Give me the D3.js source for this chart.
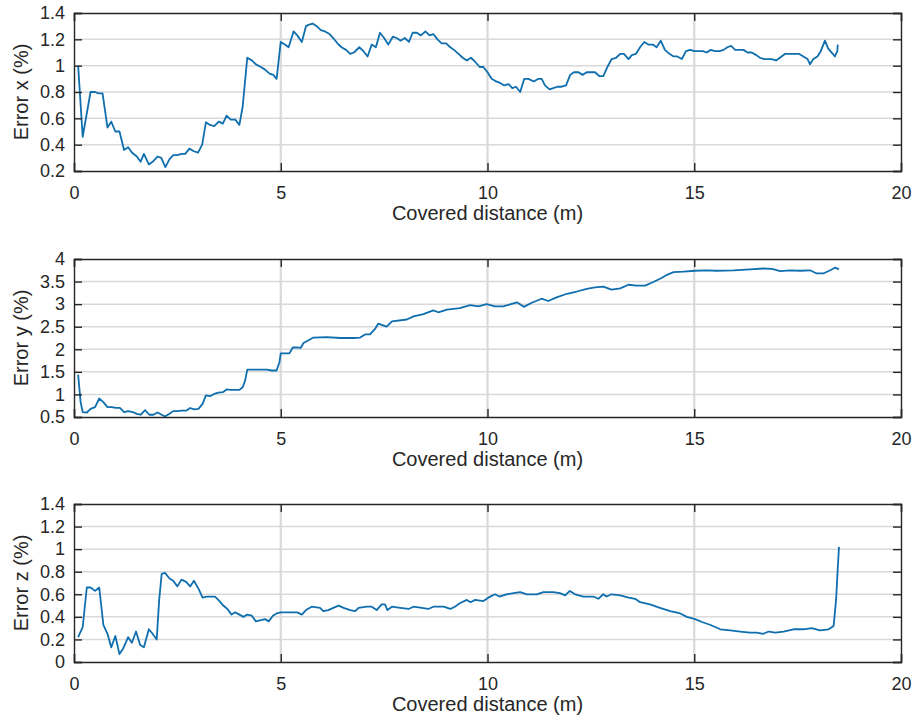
<!DOCTYPE html>
<html><head><meta charset="utf-8">
<script src="https://cdn.jsdelivr.net/npm/d3@7"></script>
<style>
body{margin:0;background:#fff;}
svg text{font-family:"Liberation Sans",Arial,Helvetica,sans-serif;fill:#262626;}
</style></head>
<body><svg id="chart" width="912" height="719"></svg>
<script>
// ---- data ----
const xTicks = [0, 5, 10, 15, 20];
const xLabel = "Covered distance (m)";

const distX = [0.10,0.21,0.40,0.51,0.59,0.69,0.81,0.90,1.00,1.10,1.21,1.31,1.40,1.52,1.61,1.69,1.81,1.90,2.02,2.11,2.21,2.31,2.40,2.50,2.60,2.69,2.79,2.90,3.00,3.10,3.19,3.29,3.39,3.50,3.60,3.69,3.79,3.90,4.00,4.08,4.19,4.30,4.40,4.52,4.62,4.73,4.82,4.90,5.00,5.10,5.19,5.31,5.40,5.51,5.61,5.67,5.77,5.87,5.97,6.07,6.18,6.27,6.37,6.47,6.58,6.68,6.77,6.90,7.00,7.10,7.20,7.30,7.40,7.50,7.60,7.71,7.80,7.90,8.00,8.10,8.19,8.29,8.39,8.50,8.60,8.69,8.79,8.89,9.00,9.10,9.19,9.30,9.40,9.50,9.60,9.70,9.81,9.90,10.00,10.10,10.21,10.30,10.40,10.51,10.60,10.69,10.79,10.89,10.99,11.12,11.23,11.31,11.39,11.50,11.59,11.69,11.79,11.90,12.00,12.09,12.20,12.30,12.40,12.50,12.60,12.71,12.80,12.90,13.00,13.11,13.21,13.30,13.41,13.49,13.59,13.69,13.79,13.89,14.00,14.09,14.19,14.29,14.40,14.50,14.59,14.70,14.80,14.90,15.00,15.10,15.21,15.30,15.40,15.50,15.61,15.71,15.80,15.89,15.99,16.09,16.19,16.29,16.39,16.50,16.59,16.69,16.79,16.87,16.98,17.07,17.20,17.30,17.41,17.53,17.64,17.74,17.80,17.88,17.98,18.06,18.16,18.24,18.35,18.40,18.46,18.47];
const errorX = [1.00,0.46,0.80,0.80,0.79,0.79,0.53,0.575,0.50,0.50,0.36,0.38,0.34,0.31,0.27,0.33,0.25,0.27,0.31,0.30,0.23,0.29,0.32,0.32,0.33,0.33,0.37,0.35,0.34,0.40,0.57,0.55,0.54,0.575,0.56,0.62,0.59,0.59,0.55,0.69,1.06,1.04,1.01,0.99,0.97,0.94,0.93,0.90,1.18,1.16,1.14,1.26,1.23,1.18,1.30,1.31,1.32,1.30,1.27,1.26,1.24,1.21,1.17,1.14,1.12,1.09,1.10,1.14,1.11,1.07,1.16,1.14,1.25,1.21,1.16,1.22,1.21,1.19,1.21,1.18,1.25,1.25,1.23,1.26,1.23,1.24,1.20,1.17,1.17,1.14,1.12,1.09,1.06,1.04,1.06,1.03,0.99,0.99,0.95,0.90,0.88,0.87,0.85,0.86,0.83,0.84,0.80,0.90,0.90,0.88,0.90,0.90,0.85,0.82,0.83,0.84,0.84,0.85,0.93,0.95,0.95,0.93,0.95,0.95,0.95,0.92,0.92,0.99,1.05,1.06,1.09,1.09,1.05,1.08,1.09,1.14,1.18,1.16,1.16,1.14,1.19,1.12,1.09,1.07,1.07,1.05,1.11,1.12,1.11,1.11,1.11,1.10,1.12,1.11,1.11,1.12,1.14,1.15,1.12,1.12,1.12,1.10,1.10,1.08,1.06,1.05,1.05,1.05,1.04,1.06,1.09,1.09,1.09,1.09,1.07,1.05,1.01,1.05,1.07,1.11,1.19,1.13,1.09,1.07,1.11,1.16];
const yTicksX = [0.2, 0.4, 0.6, 0.8, 1, 1.2, 1.4];

const distY = [0.10,0.16,0.21,0.31,0.40,0.51,0.61,0.71,0.81,0.91,1.02,1.11,1.21,1.31,1.42,1.52,1.61,1.72,1.82,1.92,2.02,2.12,2.20,2.31,2.40,2.50,2.60,2.71,2.81,2.90,3.01,3.11,3.19,3.29,3.39,3.49,3.60,3.69,3.79,3.90,4.00,4.08,4.14,4.19,4.30,4.42,4.54,4.66,4.78,4.90,4.97,5.00,5.10,5.21,5.29,5.39,5.48,5.55,5.65,5.79,6.11,6.44,6.76,6.92,7.04,7.16,7.28,7.36,7.56,7.69,8.05,8.21,8.45,8.69,8.81,9.02,9.33,9.58,9.78,9.98,10.18,10.38,10.71,10.88,11.07,11.31,11.47,11.67,11.92,12.16,12.40,12.60,12.80,13.00,13.21,13.41,13.61,13.81,14.01,14.21,14.34,14.50,14.74,15.02,15.30,15.54,15.95,16.35,16.67,16.88,17.08,17.32,17.56,17.80,17.96,18.12,18.29,18.41,18.50];
const errorY = [1.44,0.83,0.61,0.60,0.68,0.72,0.91,0.83,0.72,0.72,0.70,0.70,0.61,0.63,0.61,0.57,0.55,0.65,0.55,0.55,0.60,0.55,0.51,0.57,0.63,0.63,0.64,0.64,0.70,0.67,0.68,0.79,0.98,0.96,1.01,1.04,1.05,1.11,1.10,1.10,1.10,1.16,1.31,1.55,1.55,1.55,1.55,1.55,1.53,1.53,1.72,1.91,1.91,1.91,2.04,2.04,2.03,2.14,2.19,2.26,2.27,2.25,2.25,2.26,2.33,2.33,2.45,2.57,2.50,2.62,2.66,2.73,2.78,2.86,2.82,2.88,2.91,2.98,2.95,3.00,2.95,2.95,3.04,2.94,3.03,3.12,3.07,3.15,3.23,3.28,3.34,3.37,3.39,3.32,3.35,3.43,3.41,3.41,3.49,3.58,3.65,3.71,3.72,3.74,3.75,3.74,3.75,3.77,3.79,3.78,3.73,3.75,3.74,3.75,3.68,3.68,3.75,3.81,3.77];
const yTicksY = [0.5, 1, 1.5, 2, 2.5, 3, 3.5, 4];

const distZ = [0.10,0.21,0.31,0.40,0.51,0.61,0.71,0.81,0.90,1.00,1.10,1.19,1.31,1.40,1.50,1.60,1.69,1.81,1.90,2.00,2.06,2.12,2.20,2.31,2.40,2.50,2.60,2.71,2.81,2.90,3.01,3.11,3.21,3.31,3.41,3.52,3.61,3.71,3.81,3.90,4.00,4.10,4.19,4.30,4.40,4.52,4.62,4.71,4.81,4.90,5.00,5.10,5.21,5.31,5.40,5.51,5.61,5.75,5.95,6.03,6.15,6.27,6.40,6.52,6.68,6.80,6.88,7.08,7.20,7.32,7.44,7.52,7.58,7.69,7.89,8.09,8.21,8.41,8.57,8.69,8.94,9.10,9.21,9.33,9.50,9.59,9.70,9.90,10.02,10.18,10.29,10.46,10.63,10.79,10.95,11.19,11.35,11.59,11.75,11.88,11.99,12.12,12.32,12.56,12.68,12.80,12.88,13.00,13.21,13.41,13.57,13.69,13.93,14.17,14.42,14.66,14.82,15.02,15.22,15.38,15.63,15.87,16.11,16.35,16.51,16.67,16.80,16.96,17.16,17.40,17.64,17.84,18.04,18.25,18.37,18.43,18.46,18.50];
const errorZ = [0.22,0.31,0.66,0.66,0.63,0.66,0.33,0.25,0.13,0.23,0.07,0.12,0.22,0.17,0.27,0.15,0.13,0.29,0.25,0.20,0.55,0.78,0.79,0.74,0.72,0.67,0.73,0.71,0.67,0.72,0.65,0.57,0.58,0.58,0.58,0.54,0.50,0.47,0.42,0.44,0.42,0.40,0.42,0.41,0.36,0.37,0.38,0.36,0.41,0.43,0.44,0.44,0.44,0.44,0.44,0.42,0.46,0.49,0.48,0.45,0.46,0.48,0.50,0.48,0.46,0.45,0.48,0.49,0.49,0.46,0.51,0.51,0.46,0.49,0.48,0.47,0.49,0.48,0.47,0.49,0.49,0.47,0.49,0.52,0.55,0.53,0.55,0.54,0.57,0.60,0.58,0.60,0.61,0.62,0.60,0.60,0.62,0.62,0.61,0.59,0.63,0.60,0.58,0.58,0.56,0.60,0.58,0.60,0.59,0.57,0.56,0.53,0.51,0.48,0.45,0.43,0.40,0.38,0.35,0.33,0.29,0.28,0.27,0.26,0.26,0.25,0.27,0.26,0.27,0.29,0.29,0.30,0.28,0.29,0.32,0.55,0.76,1.02];
const yTicksZ = [0, 0.2, 0.4, 0.6, 0.8, 1, 1.2, 1.4];

// ---- layout ----
const svg = d3.select("#chart");
const left = 74, right = 901;
const panels = [
  {top: 13, bottom: 171, xs: distX, ys: errorX, yTicks: yTicksX, dom: [0.2, 1.4], label: "Error x (%)"},
  {top: 259, bottom: 417, xs: distY, ys: errorY, yTicks: yTicksY, dom: [0.5, 4], label: "Error y (%)"},
  {top: 504, bottom: 662, xs: distZ, ys: errorZ, yTicks: yTicksZ, dom: [0, 1.4], label: "Error z (%)"}
];
const lineColor = "#0f6fae";
const ink = "#262626";
const gridColor = "#d9d9d9";
const tickLen = 8;
const tickFont = 18, labelFont = 20;
const fmt = v => String(+v.toFixed(2));

panels.forEach(p => {
  const x = d3.scaleLinear().domain([0, 20]).range([left, right]);
  const y = d3.scaleLinear().domain(p.dom).range([p.bottom, p.top]);
  const g = svg.append("g");

  // grid
  g.selectAll(".hg").data(p.yTicks.slice(1, -1)).enter().append("line")
    .attr("x1", left).attr("x2", right)
    .attr("y1", d => y(d)).attr("y2", d => y(d))
    .attr("stroke", gridColor).attr("stroke-width", 1.5);
  g.selectAll(".vg").data(xTicks.slice(1, -1)).enter().append("line")
    .attr("y1", p.top).attr("y2", p.bottom)
    .attr("x1", d => x(d)).attr("x2", d => x(d))
    .attr("stroke", gridColor).attr("stroke-width", 2.2);

  // series
  const pts = p.xs.map((d, i) => [d, p.ys[i]]);
  g.append("path").datum(pts)
    .attr("fill", "none").attr("stroke", lineColor).attr("stroke-width", 1.8)
    .attr("stroke-linejoin", "round")
    .attr("d", d3.line().x(d => x(d[0])).y(d => y(d[1])));

  // axes (inward ticks, MATLAB box style)
  const axB = g.append("g").attr("transform", `translate(0,${p.bottom})`)
    .call(d3.axisBottom(x).tickValues(xTicks).tickSize(-tickLen).tickPadding(15).tickFormat(d3.format("d")));
  const axT = g.append("g").attr("transform", `translate(0,${p.top})`)
    .call(d3.axisTop(x).tickValues(xTicks).tickSize(-tickLen).tickFormat(""));
  const axL = g.append("g").attr("transform", `translate(${left},0)`)
    .call(d3.axisLeft(y).tickValues(p.yTicks).tickSize(-tickLen).tickPadding(9).tickFormat(fmt));
  const axR = g.append("g").attr("transform", `translate(${right},0)`)
    .call(d3.axisRight(y).tickValues(p.yTicks).tickSize(-tickLen).tickFormat(""));
  [axB, axT, axL, axR].forEach(a => {
    a.select(".domain").attr("stroke", ink).attr("stroke-width", 1.4);
    a.selectAll(".tick line").attr("stroke", ink).attr("stroke-width", 1.4);
    a.selectAll("text").attr("font-size", tickFont).attr("fill", ink)
      .attr("font-family", "'Liberation Sans', Arial, sans-serif");
  });
  axB.selectAll("text").attr("dy", "0.71em");

  // labels
  g.append("text").attr("x", (left + right) / 2).attr("y", p.bottom + 49)
    .attr("text-anchor", "middle").attr("font-size", labelFont).text(xLabel);
  g.append("text")
    .attr("transform", `translate(28,${(p.top + p.bottom) / 2}) rotate(-90)`)
    .attr("text-anchor", "middle").attr("font-size", labelFont).text(p.label);
});
</script></body></html>
